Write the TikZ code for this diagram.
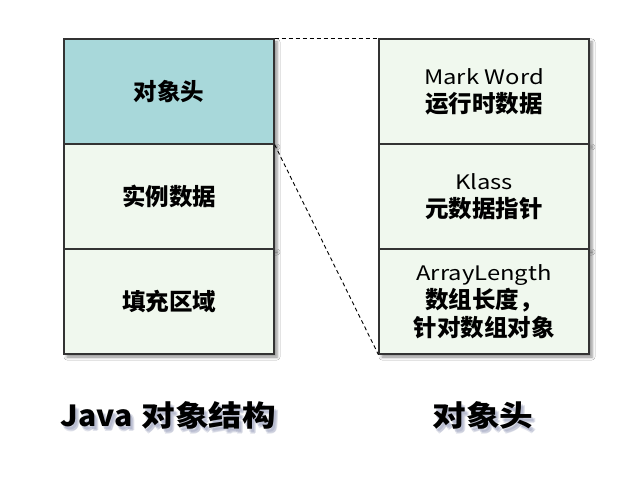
\documentclass[tikz,border=0pt]{standalone}
\usepackage{fontspec}
\usepackage{graphicx}
\setmainfont{Noto Sans CJK SC}
\usetikzlibrary{shadows.blur}
\definecolor{headfill}{HTML}{A8D8DA}
\definecolor{cellfill}{HTML}{F0F8EE}
\definecolor{edge}{HTML}{333333}
\definecolor{shade}{HTML}{7078A0}
\newcommand{\lat}[1]{\scalebox{1.19}[1]{\fontsize{20}{28}\selectfont\mdseries #1}}
\newcommand{\wide}[1]{\scalebox{1.16}[1]{#1}}
\newcommand{\jtitle}{\scalebox{1.04}[1]{Java}\hspace{9pt}\wide{对象结构}}
\begin{document}
\begin{tikzpicture}[x=1pt,y=-1pt,
  cell/.style={draw=edge, line width=1.2pt, fill=cellfill, minimum width=210pt, minimum height=105pt,
    inner sep=0pt, align=center, font=\fontsize{23.5}{28}\selectfont\bfseries, text=black,
    blur shadow={shadow xshift=3pt, shadow yshift=-3pt, shadow blur radius=3pt, shadow opacity=45}},
  head/.style={cell, fill=headfill},
  title/.style={font=\fontsize{29}{34}\selectfont\bfseries, text=black},
  tshadow/.style={font=\fontsize{29}{34}\selectfont\bfseries, text=shade, opacity=0.2},
  link/.style={draw=black, line width=0.9pt, dash pattern=on 4pt off 3pt}
]
\useasboundingbox (0,0) rectangle (634,478);
\fill[white] (0,0) rectangle (634,478);
% left column
\node[head] (l1) at (169,91.5) {对象头};
\node[cell] (l2) at (169,196.5) {实例数据};
\node[cell] (l3) at (169,301.5) {填充区域};
% right column
\node[cell] (r1) at (484,91.5) {\lat{Mark Word}\\运行时数据};
\node[cell] (r2) at (484,196.5) {\lat{Klass}\\元数据指针};
\node[cell] (r3) at (484,301.5) {\lat{ArrayLength}\\数组长度，\\针对数组对象};
% connectors
\draw[link] (l1.north east) -- (r1.north west);
\draw[link] (l1.south east) -- (r3.south west);
% titles
\foreach \dx/\dy in {2/3,3/5,4/4} {
  \node[tshadow] at (168.5+\dx,415+\dy) {\jtitle};
  \node[tshadow] at (483+\dx,415+\dy) {\wide{对象头}};
}
\node[title] (t1) at (168.5,415) {\jtitle};
\node[title] (t2) at (483,415) {\wide{对象头}};
\end{tikzpicture}
\end{document}
